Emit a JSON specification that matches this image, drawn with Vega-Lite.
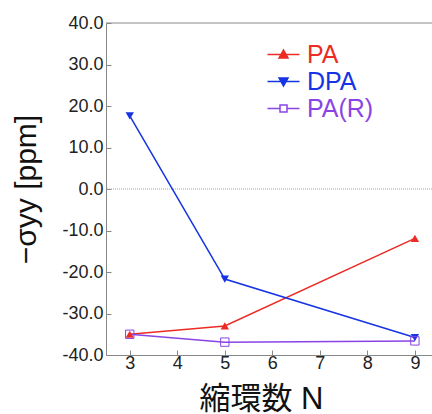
{
  "$schema": "https://vega.github.io/schema/vega-lite/v6.json",
  "width": 326,
  "height": 332,
  "autosize": {"type": "none"},
  "padding": {"left": 106, "top": 23, "right": 0, "bottom": 59},
  "background": "white",
  "config": {
    "view": {"stroke": null},
    "font": "Liberation Sans, Noto Sans CJK JP",
    "axis": {"grid": false, "domainColor": "#888888", "tickColor": "#888888", "labelColor": "#222222", "labelFontSize": 18, "labelFont": "Liberation Sans", "titleFontWeight": "normal", "titleColor": "#111111"}
  },
  "data": {
    "values": [
      {"N": 3, "sigma": -35.0, "series": "PA"},
      {"N": 5, "sigma": -33.0, "series": "PA"},
      {"N": 9, "sigma": -11.9, "series": "PA"},
      {"N": 3, "sigma": 17.6, "series": "DPA"},
      {"N": 5, "sigma": -21.7, "series": "DPA"},
      {"N": 9, "sigma": -35.8, "series": "DPA"},
      {"N": 3, "sigma": -35.0, "series": "PA(R)"},
      {"N": 5, "sigma": -36.9, "series": "PA(R)"},
      {"N": 9, "sigma": -36.6, "series": "PA(R)"}
    ]
  },
  "layer": [
    {
      "mark": {"type": "rule", "color": "#aaaaaa", "strokeDash": [1, 1], "strokeWidth": 1},
      "data": {"values": [{"zero": 0}]},
      "encoding": {"y": {"field": "zero", "type": "quantitative", "scale": {"domain": [-40, 40]}}}
    },
    {
      "mark": {"type": "line", "strokeWidth": 1.5},
      "encoding": {
        "x": {"field": "N", "type": "quantitative", "scale": {"domain": [2.5, 9.36], "nice": false, "zero": false},
          "axis": {"values": [3, 4, 5, 6, 7, 8, 9], "format": "d", "tickSize": -5, "labelPadding": 4, "title": "縮環数 N", "titleFontSize": 31, "titleFont": "Liberation Sans, Noto Sans CJK JP", "titleX": 155, "titleY": 53, "titleBaseline": "alphabetic", "titleAnchor": "middle"}},
        "y": {"field": "sigma", "type": "quantitative", "scale": {"domain": [-40, 40], "nice": false},
          "axis": {"values": [-40, -30, -20, -10, 0, 10, 20, 30, 40], "tickSize": -5, "labelPadding": 8,
            "labelExpr": "(datum.value < 0 ? '-' : '') + format(abs(datum.value), '.1f')",
            "title": "−σyy [ppm]", "titleFontSize": 30, "titleX": -80, "titleY": 166, "titleAngle": -90, "titleAlign": "center", "titleBaseline": "middle"}},
        "color": {"field": "series", "type": "nominal", "sort": ["PA", "DPA", "PA(R)"],
          "scale": {"domain": ["PA", "DPA", "PA(R)"], "range": ["#ec2b25", "#1634e4", "#8a44e6"]},
          "legend": {
            "orient": "none", "legendX": 165, "legendY": 19, "title": null,
            "labelFontSize": 25, "labelFont": "Liberation Sans", "rowPadding": 1, "labelOffset": 11,
            "symbolSize": 400, "symbolStrokeWidth": 1.5,
            "encode": {
              "labels": {"update": {"fill": {"scale": "color", "field": "value"}}},
              "symbols": {"update": {
                "shape": {"signal": "datum.value === 'PA' ? 'M-1.6,0H1.6M-0.45,0.35L0,-0.45L0.45,0.35Z' : datum.value === 'DPA' ? 'M-1.6,0H1.6M-0.45,-0.35L0,0.45L0.45,-0.35Z' : 'M-1.6,0H-0.35M0.35,0H1.6M-0.35,-0.35H0.35V0.35H-0.35Z'"},
                "fill": {"signal": "datum.value === 'PA(R)' ? 'transparent' : scale('color', datum.value)"},
                "stroke": {"scale": "color", "field": "value"},
                "strokeWidth": {"value": 1.5}
              }}
            }
          }}
      }
    },
    {
      "transform": [{"filter": "datum.series === 'PA'"}],
      "mark": {"type": "point", "shape": "triangle-up", "size": 70, "filled": true, "color": "#ec2b25", "opacity": 1},
      "encoding": {"x": {"field": "N", "type": "quantitative"}, "y": {"field": "sigma", "type": "quantitative"}}
    },
    {
      "transform": [{"filter": "datum.series === 'DPA'"}],
      "mark": {"type": "point", "shape": "triangle-down", "size": 70, "filled": true, "color": "#1634e4", "opacity": 1},
      "encoding": {"x": {"field": "N", "type": "quantitative"}, "y": {"field": "sigma", "type": "quantitative"}}
    },
    {
      "transform": [{"filter": "datum.series === 'PA(R)'"}],
      "mark": {"type": "point", "shape": "square", "size": 70, "filled": false, "color": "#8a44e6", "strokeWidth": 1, "opacity": 1},
      "encoding": {"x": {"field": "N", "type": "quantitative"}, "y": {"field": "sigma", "type": "quantitative"}}
    },
    {
      "mark": {"type": "rule", "color": "#888888", "strokeWidth": 1},
      "data": {"values": [{"top": 40}]},
      "encoding": {"y": {"field": "top", "type": "quantitative"}}
    }
  ]
}
